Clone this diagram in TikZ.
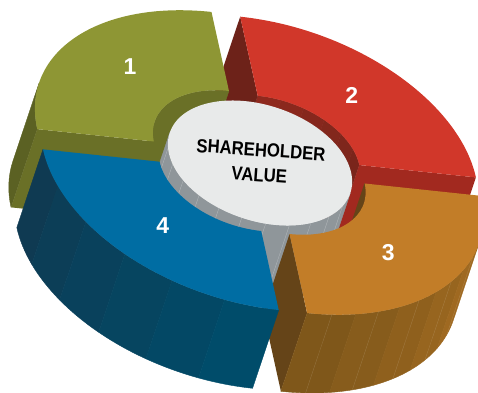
\documentclass[tikz,border=0pt]{standalone}
\usepackage{fontspec}
\setmainfont{Liberation Sans}
\newfontfamily\titlefont[FakeStretch=0.88]{Liberation Sans}
\usetikzlibrary{calc}
\definecolor{Olive}{HTML}{8E9634}
\definecolor{OliveSide}{HTML}{6A7027}
\definecolor{OliveWall}{HTML}{5B6123}
\definecolor{Brick}{HTML}{D1372A}
\definecolor{BrickEnd}{HTML}{6D2219}
\definecolor{BrickInner}{HTML}{8E291E}
\definecolor{BrickSide}{HTML}{A2291F}
\definecolor{Amber}{HTML}{C27D28}
\definecolor{AmberSide}{HTML}{654418}
\definecolor{AmberWall}{HTML}{7F571A}
\definecolor{Ocean}{HTML}{006DA3}
\definecolor{OceanDark}{HTML}{0F3A52}
\definecolor{OceanWall}{HTML}{004C6A}
\definecolor{Disc}{HTML}{E8EAEA}
\definecolor{DiscWall}{HTML}{8F969A}

\newcommand{\ringdepth}{1.43}
\newcommand{\ringin}{0.97}
\newcommand{\ringout}{2.25}
% curved wall between two angles, dropped by the ring depth
\newcommand{\wallband}[4]{%
  \fill[#4,draw=#4,line width=0.4pt,line join=round] (#2:#1) arc[start angle=#2,end angle=#3,radius=#1]
    -- ($(#3:#1)+(0,-\ringdepth)$) arc[start angle=#3,end angle=#2,radius=#1] -- cycle;}
% flat cut face at one end of a segment
\newcommand{\cutface}[2]{%
  \fill[#2] (#1:\ringin) -- (#1:\ringout) -- ($(#1:\ringout)+(0,-\ringdepth)$)
    -- ($(#1:\ringin)+(0,-\ringdepth)$) -- cycle;}
\newcommand{\topface}[3]{%
  \fill[#3] (#1:\ringout) arc[start angle=#1,end angle=#2,radius=\ringout]
    -- (#2:\ringin) arc[start angle=#2,end angle=#1,radius=\ringin] -- cycle;}

\begin{document}
\begin{tikzpicture}[x=1pt,y=1pt,
  ring/.style={cm={90.28,-30.21,18.31,54.72,(260,229)}},
  num/.style={text=white,font=\fontsize{23}{23}\selectfont\bfseries},
  title/.style={align=center,rotate=-4,inner sep=0pt,font=\titlefont\fontsize{19}{25}\selectfont\bfseries},
  seam/.style={white,opacity=0.18,line width=0.3pt}
]
\useasboundingbox (0,0) rectangle (478,392);
\begin{scope}[ring]
% segment 2
\begin{scope}[shift={(65:0.2)}]
\foreach \i in {0,...,5}{
  \pgfmathtruncatemacro\p{40+12*\i}
  \pgfmathsetmacro\s{20+15*\i}
  \pgfmathsetmacro\e{35+15*\i}
  \wallband{\ringin}{\s}{\e}{BrickInner!\p!BrickEnd}
}
\cutface{110}{BrickEnd}
\cutface{20}{BrickSide}
\topface{20}{110}{Brick}
\node[num] (n2) at (67:1.55) {2};
\end{scope}
% segment 1
\begin{scope}[shift={(155:0.24)}]
\wallband{\ringout}{180}{200}{OliveWall}
\cutface{200}{OliveSide}
\wallband{\ringin}{110}{180}{OliveSide}
\topface{110}{200}{Olive}
\node[num] (n1) at (151:1.6) {1};
\end{scope}
% segment 3, inner wall behind the disc
\begin{scope}[shift={(335:0.22)}]
\wallband{\ringin}{0}{20}{AmberSide}
\end{scope}
% centre disc
\wallband{1}{180}{360}{DiscWall}
\foreach \a in {195,210,...,345}
  \draw[seam,opacity=0.35] (\a:1) -- ($(\a:1)+(0,-\ringdepth)$);
\fill[Disc] (0,0) circle[radius=1];
\node[title] (value) at (0,0.01) {SHAREHOLDER\\VALUE};
% segment 3
\begin{scope}[shift={(335:0.22)}]
\cutface{290}{AmberSide}
\foreach \i in {0,...,4}{
  \pgfmathtruncatemacro\p{100-15*\i}
  \pgfmathsetmacro\s{290+14*\i}
  \pgfmathsetmacro\e{304+14*\i}
  \wallband{\ringout}{\s}{\e}{AmberWall!\p!Amber!80!AmberWall}
}
\foreach \a in {297,311,...,353}
  \draw[seam] (\a:\ringout) -- ($(\a:\ringout)+(0,-\ringdepth)$);
\topface{290}{380}{Amber}
\node[num] (n3) at (-26:1.53) {3};
\end{scope}
% segment 4
\begin{scope}[shift={(245:0.22)}]
\foreach \i in {0,...,5}{
  \pgfmathtruncatemacro\p{100-20*\i}
  \pgfmathsetmacro\s{200+15*\i}
  \pgfmathsetmacro\e{215+15*\i}
  \wallband{\ringout}{\s}{\e}{OceanDark!\p!OceanWall}
}
\topface{200}{290}{Ocean}
\node[num] (n4) at (244:1.52) {4};
\end{scope}
\end{scope}
\end{tikzpicture}
\end{document}
